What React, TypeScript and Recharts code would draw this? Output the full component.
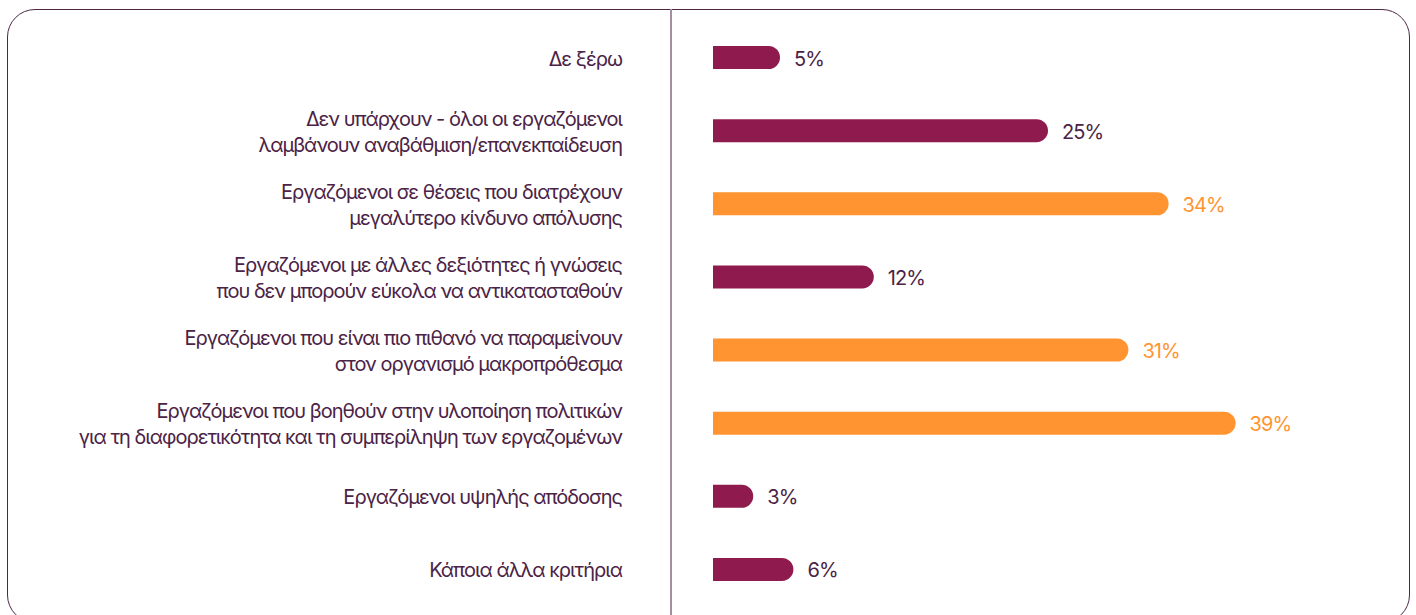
import { BarChart, Bar, XAxis, YAxis, Cell, LabelList } from "recharts";

const categories = [
  "Δε ξέρω",
  "Δεν υπάρχουν - όλοι οι εργαζόμενοι\nλαμβάνουν αναβάθμιση/επανεκπαίδευση",
  "Εργαζόμενοι σε θέσεις που διατρέχουν\nμεγαλύτερο κίνδυνο απόλυσης",
  "Εργαζόμενοι με άλλες δεξιότητες ή γνώσεις\nπου δεν μπορούν εύκολα να αντικατασταθούν",
  "Εργαζόμενοι που είναι πιο πιθανό να παραμείνουν\nστον οργανισμό μακροπρόθεσμα",
  "Εργαζόμενοι που βοηθούν στην υλοποίηση πολιτικών\nγια τη διαφορετικότητα και τη συμπερίληψη των εργαζομένων",
  "Εργαζόμενοι υψηλής απόδοσης",
  "Κάποια άλλα κριτήρια",
];

const shares = [5, 25, 34, 12, 31, 39, 3, 6];

const highlighted = [false, false, true, false, true, true, false, false];

const PURPLE = "#8e1a4e";
const ORANGE = "#ff9430";
const TEXT = "#4b2346";
const FONT = "Inter, 'Noto Sans', sans-serif";

const data = categories.map((name, i) => ({
  name,
  value: shares[i],
  hot: highlighted[i],
}));

function CategoryTick({ x, y, payload }: any) {
  const lines = String(payload.value).split("\n");
  const lh = 26;
  const y0 = y + 1 - ((lines.length - 1) * lh) / 2;
  return (
    <text
      x={x}
      y={y0}
      textAnchor="end"
      dominantBaseline="central"
      fill={TEXT}
      fontSize={20}
      fontFamily={FONT}
      letterSpacing={-1}
    >
      {lines.map((line, i) => (
        <tspan key={i} x={x} y={y0 + i * lh}>
          {line}
        </tspan>
      ))}
    </text>
  );
}

function ValueLabel({ x, y, width, height, value, index }: any) {
  const color = highlighted[index] ? ORANGE : TEXT;
  return (
    <text
      x={Number(x) + Number(width) + 14}
      y={Number(y) + Number(height) / 2 + 1}
      dominantBaseline="central"
      fill={color}
      fontSize={20}
      fontFamily={FONT}
      letterSpacing={-0.9}
    >
      {value}%
    </text>
  );
}

export default function App() {
  return (
    <div style={{ position: "relative", width: 1416, height: 615, overflow: "hidden", background: "#fff" }}>
      <style>{"body{margin:0}"}</style>
      <div
        style={{
          position: "absolute",
          left: 7,
          top: 9,
          width: 1403,
          height: 614,
          boxSizing: "border-box",
          border: "1.5px solid #4d2748",
          borderRadius: 28,
        }}
      />
      <div
        style={{
          position: "absolute",
          left: 670,
          top: 9,
          width: 1.5,
          height: 606,
          background: "#a38fa1",
        }}
      />
      <div style={{ position: "absolute", left: 0, top: 0 }}>
        <BarChart
          width={1416}
          height={615}
          data={data}
          layout="vertical"
          margin={{ top: 21, right: 33, bottom: 9, left: 0 }}
          barSize={23}
        >
          <XAxis type="number" domain={[0, 50]} hide />
          <YAxis
            type="category"
            dataKey="name"
            width={713}
            axisLine={false}
            tickLine={false}
            tickMargin={85}
            tick={<CategoryTick />}
            interval={0}
          />
          <Bar dataKey="value" radius={[0, 11.5, 11.5, 0]} isAnimationActive={false}>
            {data.map((d, i) => (
              <Cell key={`cell-${i}`} fill={d.hot ? ORANGE : PURPLE} />
            ))}
            <LabelList dataKey="value" content={<ValueLabel />} />
          </Bar>
        </BarChart>
      </div>
    </div>
  );
}
